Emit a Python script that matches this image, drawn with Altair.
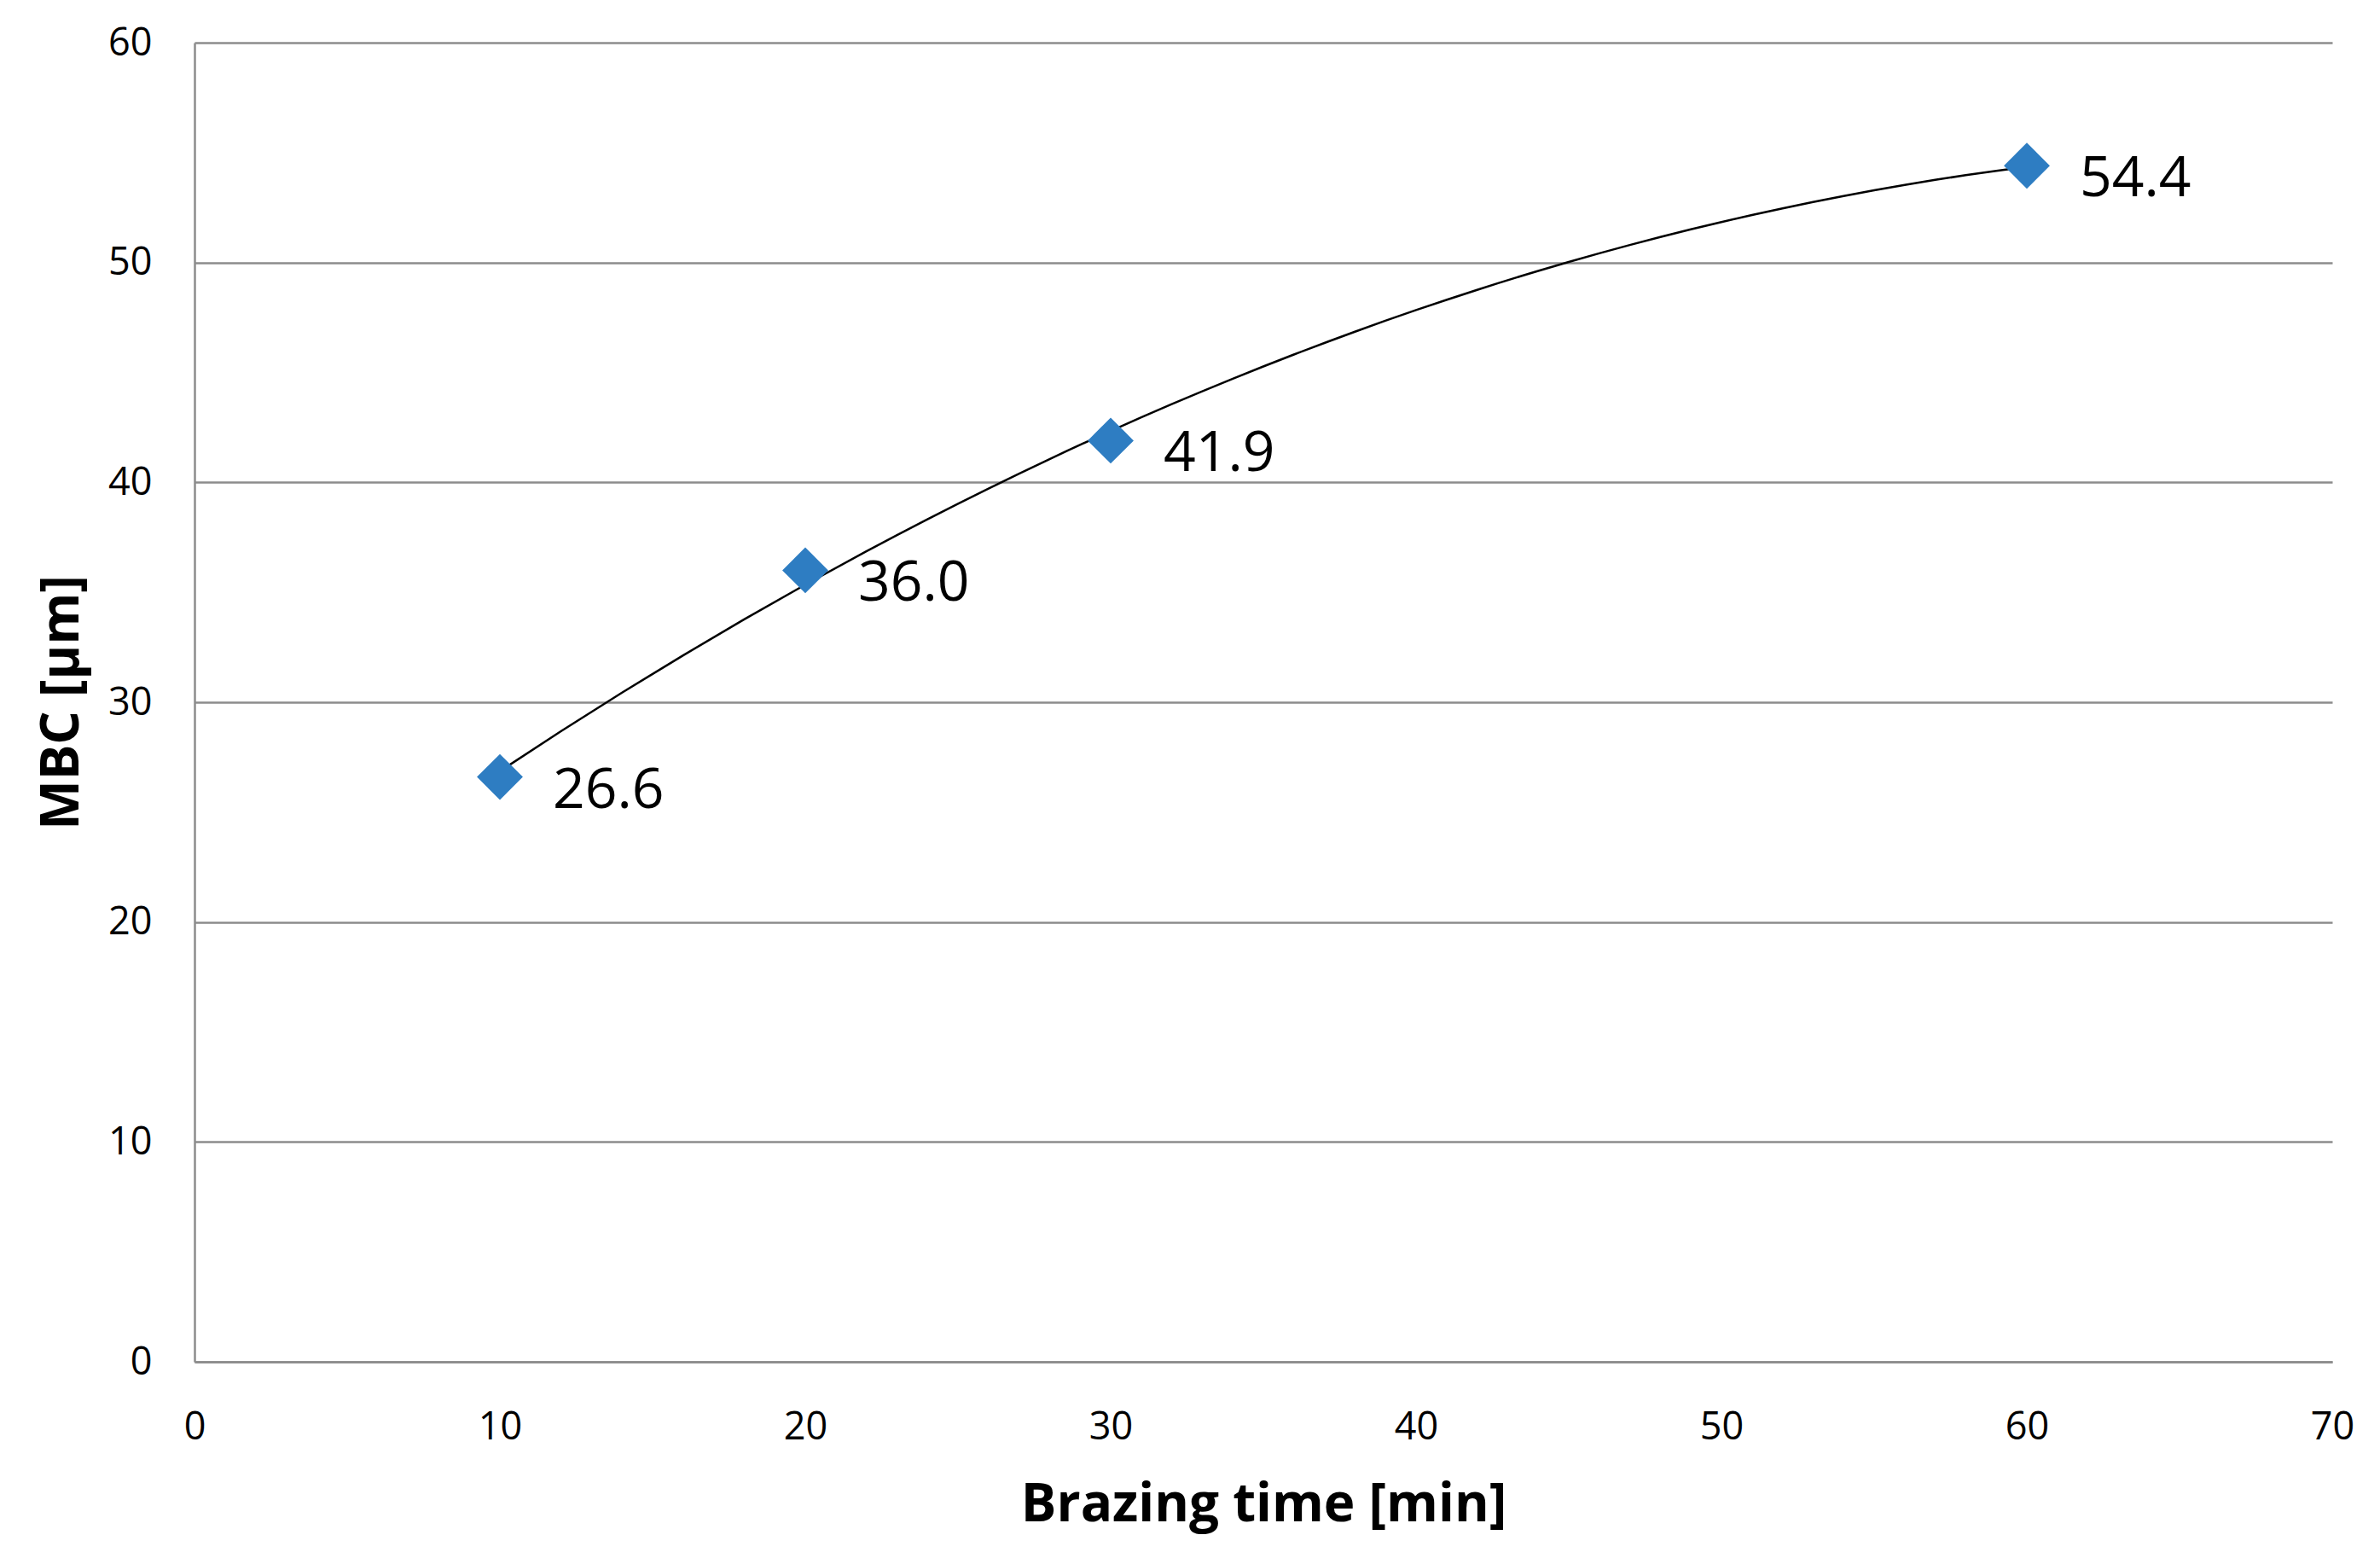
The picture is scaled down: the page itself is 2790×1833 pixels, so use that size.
import altair as alt
import pandas as pd

times = [10, 20, 30, 60]
mbc = [26.6, 36.0, 41.9, 54.4]
labels = ["26.6", "36.0", "41.9", "54.4"]

df = pd.DataFrame({"time": times, "mbc": mbc, "label": labels})

FONT = "Open Sans"

x = alt.X("time:Q", scale=alt.Scale(domain=[0, 70], nice=False),
          axis=alt.Axis(values=list(range(0, 71, 10)), title="Brazing time [min]",
                        grid=False, ticks=False, labelFlush=False,
                        labelPadding=54, titlePadding=38))
y = alt.Y("mbc:Q", scale=alt.Scale(domain=[0, 60], nice=False),
          axis=alt.Axis(values=list(range(0, 61, 10)), title="MBC [μm]",
                        ticks=False, labelFlush=False, labelPadding=50, titlePadding=22))

base = alt.Chart(df)

trend = base.transform_regression("time", "mbc", method="poly", order=2,
                                  extent=[10, 60]).mark_line(
    color="black", strokeWidth=2.5, interpolate="monotone").encode(x=x, y=y)

points = base.mark_point(shape="diamond", filled=True, size=2900,
                         color="#2E7DC2", opacity=1).encode(x=x, y=y)

texts = base.mark_text(align="left", baseline="middle", dx=62, dy=16,
                       fontSize=66, font=FONT, color="black").encode(
    x=x, y=y, text="label:N")

chart = alt.layer(trend, points, texts).properties(
    width=2506, height=1546,
    autosize=alt.AutoSizeParams(type="none"),
    padding={"left": 220, "top": 42, "right": 40, "bottom": 220},
).configure_view(stroke=None).configure_axis(
    domainColor="#8c8c8c", domainWidth=2.5,
    gridColor="#8c8c8c", gridWidth=2.5,
    labelFont=FONT, labelFontSize=45, labelColor="black",
    titleFont=FONT, titleFontSize=62, titleFontWeight="bold", titleColor="black",
).configure_axisX(domain=True).configure_axisY(domain=True, gridOpacity=1)

chart.save("out.html", embed_options={"renderer": "svg", "actions": False})
